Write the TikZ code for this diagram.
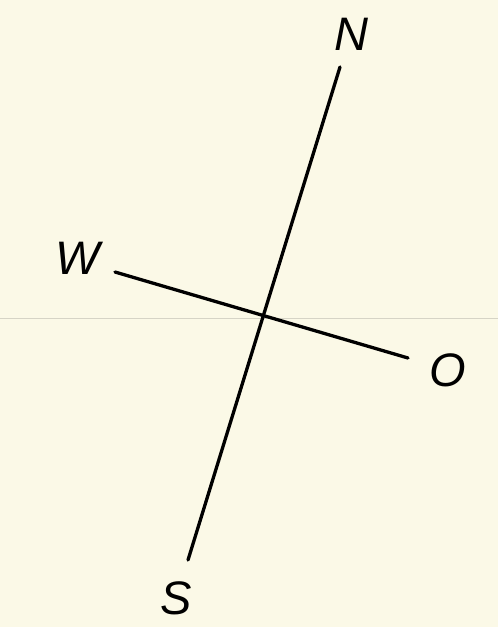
\documentclass[tikz,border=0pt]{standalone}
\usepackage{fontspec}
\setmainfont{Liberation Sans}
\definecolor{paper}{HTML}{FBF9E7}
\definecolor{rule}{HTML}{D6D4C6}
\begin{document}
\begin{tikzpicture}[x=1pt,y=-1pt,
  axis/.style={line width=3.3pt,black,line cap=round},
  lbl/.style={font=\fontsize{47}{47}\selectfont\itshape,inner sep=0pt,anchor=center}]
\fill[paper] (0,0) rectangle (498,627);
\useasboundingbox (0,0) rectangle (498,627);
\draw[rule,line width=1pt] (0,318) -- (498,318);
\coordinate (n) at (340,67);
\coordinate (s) at (188,560);
\coordinate (w) at (115,272);
\coordinate (o) at (408,358);
\draw[axis] (n) -- (s);
\draw[axis] (w) -- (o);
\node[lbl] (N) at (351,34) {\vphantom{N}N};
\node[lbl] (W) at (78,258) {W};
\node[lbl] (O) at (448,370) {O};
\node[lbl] (S) at (176,598) {S};
\end{tikzpicture}
\end{document}
